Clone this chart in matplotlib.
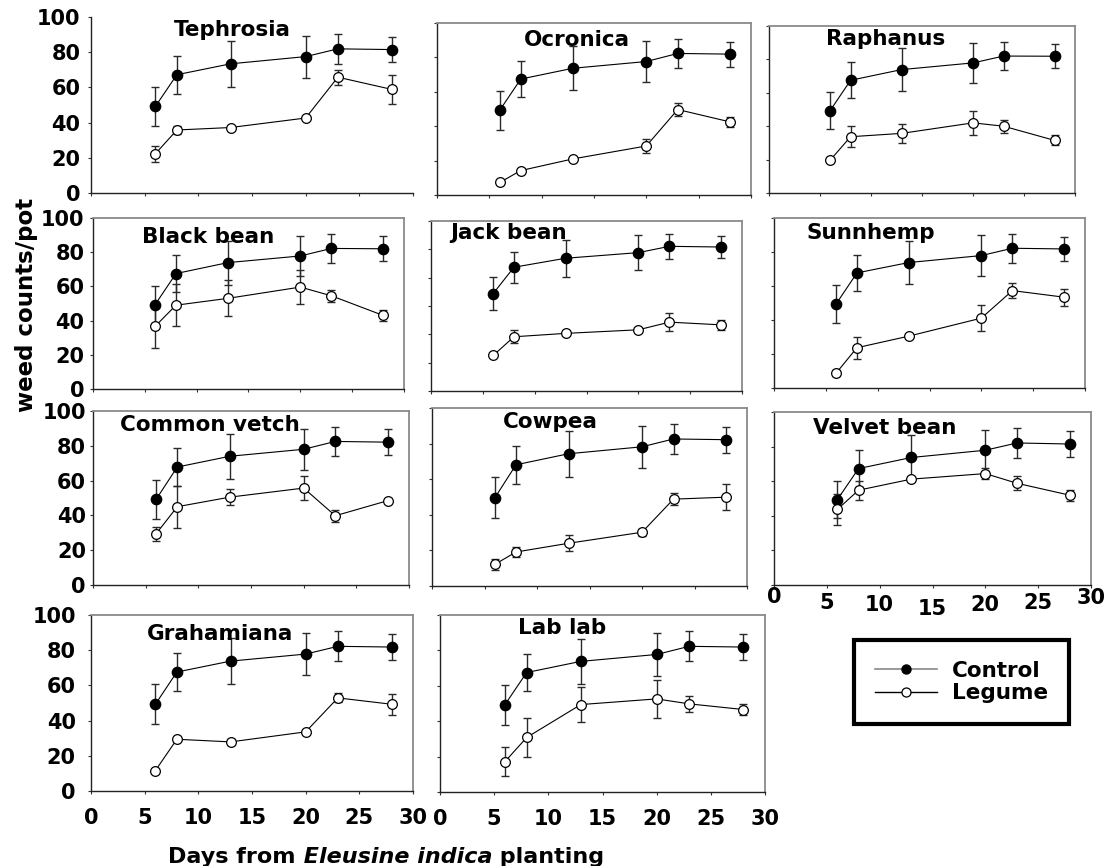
import matplotlib
matplotlib.use('Agg')
import numpy as np
import matplotlib.pyplot as plt
from matplotlib.lines import Line2D

plt.rcParams['font.family'] = ['DejaVu Sans', 'Liberation Sans']
plt.rcParams['font.weight'] = 'bold'

W, H = 1106, 866

# ── Data ─────────────────────────────────────────────────────────────────────

DAYS = [6, 8, 13, 20, 23, 28]
X_TICKS = [0, 5, 10, 15, 20, 25, 30]
Y_TICKS = [0, 20, 40, 60, 80, 100]

PANELS = ['Tephrosia', 'Ocronica', 'Raphanus',
          'Black bean', 'Jack bean', 'Sunnhemp',
          'Common vetch', 'Cowpea', 'Velvet bean',
          'Grahamiana', 'Lab lab']

CONTROL = [
    [49.2, 67.2, 73.4, 77.5, 81.9, 81.5],   # Tephrosia
    [49.3, 67.4, 73.7, 77.6, 82.3, 81.9],   # Ocronica
    [49.4, 67.5, 73.9, 77.9, 82.0, 81.9],   # Raphanus
    [49.4, 67.5, 73.9, 77.8, 82.2, 82.0],   # Black bean
    [57.3, 72.8, 78.1, 81.4, 85.1, 84.7],   # Jack bean
    [49.5, 67.7, 73.8, 77.9, 82.2, 81.8],   # Sunnhemp
    [49.3, 67.8, 74.0, 78.0, 82.5, 82.1],   # Common vetch
    [49.7, 68.1, 74.3, 78.2, 82.6, 82.2],   # Cowpea
    [49.4, 67.3, 73.7, 77.9, 82.1, 81.5],   # Velvet bean
    [49.3, 67.6, 73.8, 77.8, 82.2, 81.8],   # Grahamiana
    [49.4, 67.5, 73.8, 77.7, 82.3, 81.9],   # Lab lab
]
CONTROL_ERR = [
    [11.3, 10.7, 12.9, 11.9, 8.5, 7.3],
    [11.3, 10.7, 12.9, 11.9, 8.5, 7.3],
    [11.3, 10.7, 12.9, 11.9, 8.5, 7.3],
    [11.0, 10.7, 12.9, 11.9, 8.5, 7.3],
    [9.6, 9.1, 10.9, 10.2, 7.2, 6.2],
    [11.3, 10.7, 12.9, 11.9, 8.5, 7.3],
    [11.3, 10.7, 12.9, 11.9, 8.5, 7.3],
    [11.4, 10.7, 12.9, 11.9, 8.5, 7.3],
    [10.6, 10.7, 12.9, 11.9, 8.5, 7.3],
    [11.3, 10.7, 12.9, 11.9, 8.5, 7.3],
    [11.3, 10.7, 12.9, 11.9, 8.5, 7.3],
]

LEGUME = [
    [22.3, 35.8, 37.2, 42.6, 65.8, 58.9],
    [7.3, 14.2, 21.0, 28.5, 49.7, 42.5],
    [19.7, 33.7, 35.7, 42.0, 40.0, 31.5],
    [36.7, 49.0, 53.0, 59.6, 54.5, 43.0],
    [20.9, 31.9, 33.9, 36.0, 40.5, 38.9],
    [8.8, 23.7, 30.5, 41.1, 57.3, 53.4],
    [29.5, 45.0, 50.5, 55.7, 39.8, 48.5],
    [12.2, 19.1, 24.0, 30.2, 48.8, 49.9],
    [43.7, 54.8, 61.2, 64.4, 58.8, 51.9],
    [11.6, 29.4, 27.9, 33.6, 52.9, 49.3],
    [17.2, 30.8, 49.4, 52.6, 49.8, 46.6],
]
LEGUME_ERR = [
    [4.5, 2.5, 1.0, 0.6, 4.3, 8.2],
    [0.6, 1.2, 0.6, 4.0, 3.7, 2.9],
    [0.6, 6.3, 5.5, 7.2, 3.8, 3.0],
    [12.5, 12.3, 10.5, 10.0, 3.5, 3.0],
    [0.6, 3.9, 0.6, 0.6, 5.2, 2.8],
    [2.0, 6.4, 1.0, 7.8, 4.6, 5.0],
    [4.0, 12.0, 4.4, 7.0, 3.5, 0.6],
    [3.0, 3.0, 4.4, 2.0, 3.5, 7.4],
    [9.0, 5.5, 1.0, 3.0, 4.0, 3.3],
    [0.6, 0.6, 1.5, 1.0, 2.5, 6.0],
    [8.3, 11.0, 10.0, 10.7, 4.4, 3.0],
]

# ── Layout (pixels: left, right, top, bottom) ───────────────────────────────

BOXES = [
    (91, 413, 17, 193), (437, 751, 23, 195), (769, 1075, 26, 193),
    (93, 404, 218, 389), (431, 742, 221, 391), (774, 1085, 218, 388),
    (93, 409, 411, 585), (432, 747, 408, 586), (774, 1091, 412, 585),
    (91, 413, 615, 791), (440, 765, 615, 792),
]
TITLE_XY = [
    (0.44, 0.925), (0.446, 0.90), (0.38, 0.92),
    (0.37, 0.89), (0.25, 0.93), (0.31, 0.91),
    (0.37, 0.92), (0.375, 0.92), (0.35, 0.91),
    (0.40, 0.89), (0.375, 0.925),
]
YLABEL_PAD = {0: 5.0, 3: 3.6, 6: 2.6, 9: 8.5}
VELVET_DY = [12, 18, 20, 24, 20, 18, 13]   # px below spine, as in source
TICK_FS = 15


def draw_panel(fig, i):
    l, r, t, b = BOXES[i]
    ax = fig.add_axes([l / W, 1 - b / H, (r - l) / W, (b - t) / H])

    eb = dict(fmt='none', ecolor='#2a2a2a', elinewidth=1.0, capsize=2.6,
              capthick=1.0, zorder=2)
    ax.errorbar(DAYS, CONTROL[i], yerr=CONTROL_ERR[i], **eb)
    ax.plot(DAYS, CONTROL[i], '-o', color='black', lw=0.8, ms=7.4,
            mfc='black', mec='black', zorder=3)
    ax.errorbar(DAYS, LEGUME[i], yerr=LEGUME_ERR[i], **eb)
    ax.plot(DAYS, LEGUME[i], '-o', color='black', lw=0.8, ms=7.0,
            mfc='white', mec='black', mew=0.9, zorder=4)

    ax.set_xlim(0, 30)
    ax.set_ylim(0, 100)
    ax.set_xticks(X_TICKS)
    if PANELS[i] == 'Jack bean':
        ax.set_yticks(np.linspace(0, 100, 7))
    else:
        ax.set_yticks(Y_TICKS)

    for side in ('left', 'bottom'):
        ax.spines[side].set_color('#222222')
        ax.spines[side].set_linewidth(1.0)
    for side in ('top', 'right'):
        ax.spines[side].set_color('#8a8a8a')
        ax.spines[side].set_linewidth(1.3)
        if PANELS[i] == 'Tephrosia':
            ax.spines[side].set_visible(False)

    ax.tick_params(axis='both', direction='out', length=2.5, width=0.8,
                   color='#333333', labelsize=TICK_FS)
    ax.tick_params(axis='y', pad=YLABEL_PAD.get(i, 4))
    ax.tick_params(axis='x', pad=10)
    if i not in YLABEL_PAD:
        ax.set_yticklabels([])
    if i not in (9, 10):
        ax.set_xticklabels([])

    # Velvet bean carries its own wobbly day labels
    if PANELS[i] == 'Velvet bean':
        for v, dy in zip(X_TICKS, VELVET_DY):
            ax.annotate(str(v), xy=(v, 0), xycoords=('data', 'axes fraction'),
                        xytext=(0, -dy * 0.72), textcoords='offset points',
                        ha='center', va='center', fontsize=TICK_FS,
                        fontweight='bold')

    tx, ty = TITLE_XY[i]
    ax.text(tx, ty, PANELS[i], transform=ax.transAxes, ha='center',
            va='center', fontsize=15.5, fontweight='bold')
    return ax


# ── Figure ───────────────────────────────────────────────────────────────────

fig = plt.figure(figsize=(W / 100, H / 100), dpi=100)

for i in range(len(PANELS)):
    draw_panel(fig, i)

fig.text(27 / W, 1 - 305 / H, 'weed counts/pot', rotation=90, ha='center',
         va='center', fontsize=16.5, fontweight='bold')

XL_FS = 16
t1 = fig.text(168 / W, 1 - 857 / H, 'Days from', ha='left', va='center',
              fontsize=XL_FS, fontweight='bold')
t2 = fig.text(0, 0, ' Eleusine indica', fontsize=XL_FS, fontweight='bold',
              style='italic', ha='left', va='center')
t3 = fig.text(0, 0, ' planting', fontsize=XL_FS, fontweight='bold',
              ha='left', va='center')
# chain the pieces next to each other
fig.canvas.draw()
r = fig.canvas.get_renderer()
bb = t1.get_window_extent(r)
t2.set_position((bb.x1 / W, 1 - 857 / H))
bb = t2.get_window_extent(r)
t3.set_position((bb.x1 / W, 1 - 857 / H))

handles = [
    Line2D([], [], color='#888888', lw=1.2, marker='o', ms=6.5,
           mfc='black', mec='black'),
    Line2D([], [], color='black', lw=1.0, marker='o', ms=6.5,
           mfc='white', mec='black', mew=0.9),
]
leg = fig.legend(handles, ['Control', 'Legume'], loc='center',
                 bbox_to_anchor=((853 + 1070) / 2 / W, 1 - (642 + 722) / 2 / H),
                 fontsize=15.5, frameon=True, fancybox=False,
                 framealpha=1.0, edgecolor='black',
                 handlelength=2.9, handletextpad=0.7, labelspacing=0.12,
                 borderpad=0.95, borderaxespad=0)
leg.get_frame().set_linewidth(3.0)
for txt in leg.get_texts():
    txt.set_fontweight('bold')

fig.savefig('out.png', dpi=100)
